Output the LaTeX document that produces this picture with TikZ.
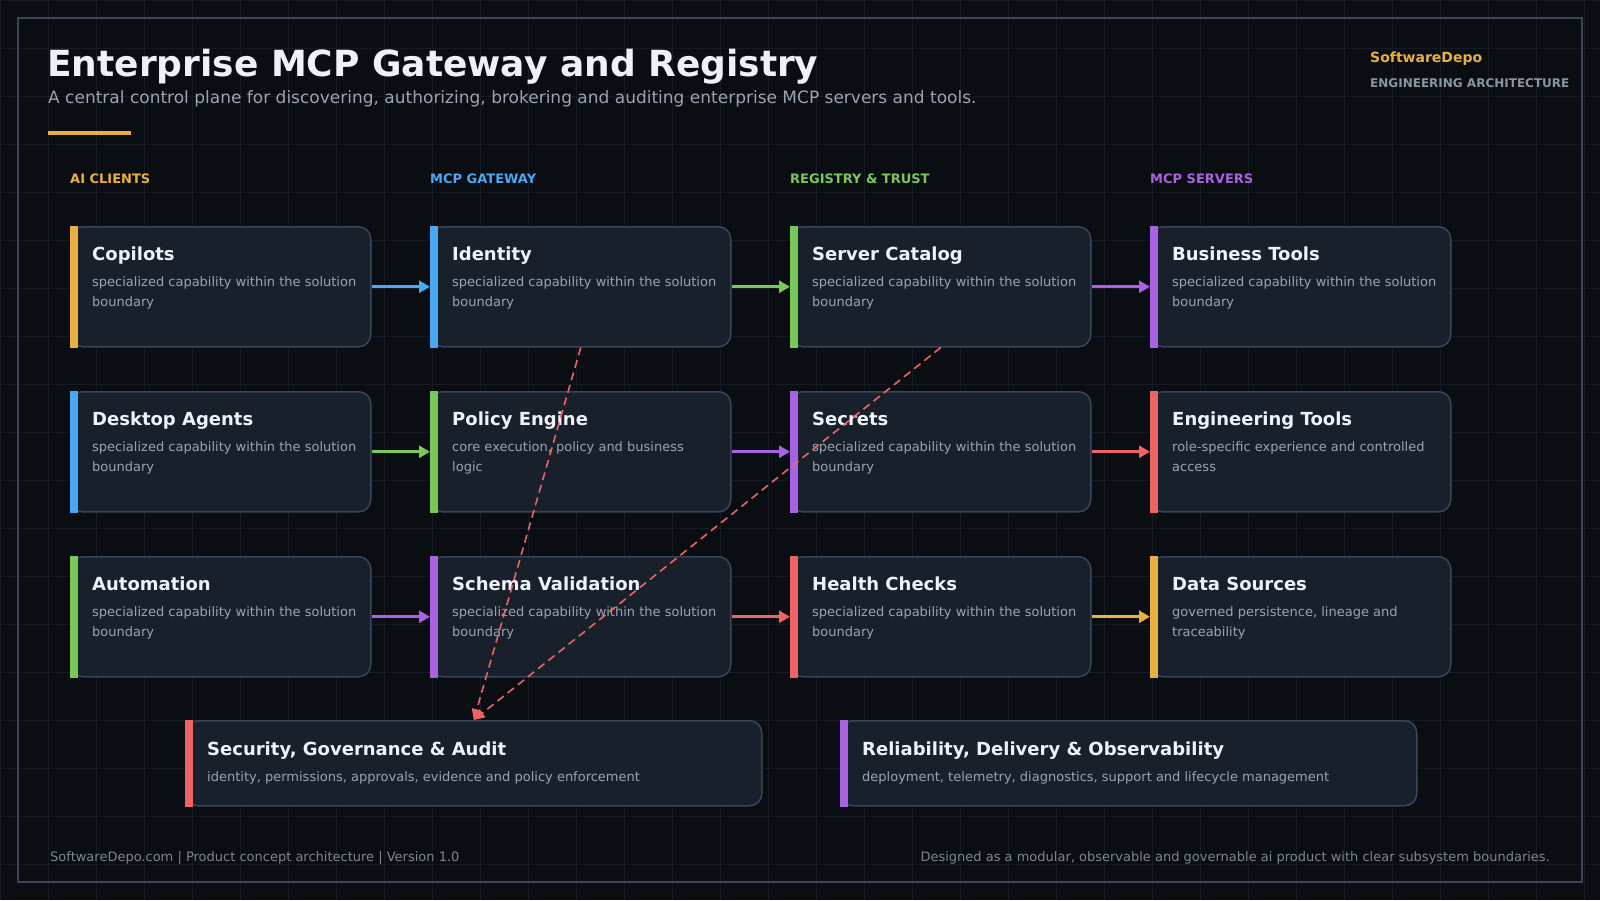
\documentclass[tikz,border=0pt]{standalone}
\usepackage{fontspec}
\setmainfont{DejaVu Sans}
\usetikzlibrary{arrows.meta,calc}
\definecolor{bgc}{HTML}{0A0D12}
\definecolor{gridc}{HTML}{141B24}
\definecolor{framec}{HTML}{3A4657}
\definecolor{cardfill}{HTML}{18202B}
\definecolor{cardline}{HTML}{38455A}
\definecolor{txtwhite}{HTML}{EEF2F8}
\definecolor{txtgray}{HTML}{9AA4B2}
\definecolor{footgray}{HTML}{7C8796}
\definecolor{archgray}{HTML}{8A95A3}
\definecolor{cyellow}{HTML}{E9B041}
\definecolor{cblue}{HTML}{4AA8F5}
\definecolor{cgreen}{HTML}{79C95A}
\definecolor{cpurple}{HTML}{A962E2}
\definecolor{cred}{HTML}{EE6464}
\newcommand\fs[2]{\fontsize{#1}{#2}\selectfont}
\tikzset{
  card/.style={draw=cardline, fill=cardfill, line width=1.5pt, rounded corners=12pt,
    anchor=north west, inner sep=0pt, minimum width=300pt, minimum height=120pt},
  wide/.style={card, minimum width=576pt, minimum height=85pt},
  ctitle/.style={anchor=base west, inner sep=0pt, text=txtwhite, font=\fs{18}{22}\bfseries},
  cdesc/.style={anchor=base west, inner sep=0pt, text=txtgray, font=\fs{13}{16}},
  collabel/.style={anchor=base west, inner sep=0pt, font=\fs{13}{15}\bfseries},
  flow/.style={line width=3pt, -{Triangle[length=11pt,width=12pt]}},
  audit/.style={cred, line width=1.6pt, dash pattern=on 8pt off 5pt, -{Triangle[length=11pt,width=10pt]}},
}
% name, x, y, colour, title, line1, line2
\newcommand\cardbox[7]{%
  \node[card] (#1) at (#2,#3) {};
  \fill[#4] (#1.north west) rectangle ([xshift=8pt]#1.south west);
  \node[ctitle] (#1-t) at ($(#1.north west)+(22,34)$) {#5};
  \node[cdesc] (#1-a) at ($(#1.north west)+(22,60)$) {#6};
  \node[cdesc] (#1-b) at ($(#1.north west)+(22,80)$) {#7};
}
\newcommand\widebox[6]{%
  \node[wide] (#1) at (#2,#3) {};
  \fill[#4] (#1.north west) rectangle ([xshift=8pt]#1.south west);
  \node[ctitle] (#1-t) at ($(#1.north west)+(22,35)$) {#5};
  \node[cdesc] (#1-a) at ($(#1.north west)+(22,61)$) {#6};
}
\begin{document}
\begin{tikzpicture}[x=1pt,y=-1pt]
\useasboundingbox (0,0) rectangle (1600,900);
\fill[bgc] (0,0) rectangle (1600,900);
\foreach \gx in {0,48,...,1584} \draw[gridc, line width=1pt] (\gx,0) -- (\gx,900);
\foreach \gy in {0,48,...,888} \draw[gridc, line width=1pt] (0,\gy) -- (1600,\gy);
\draw[framec, line width=2pt] (18,18) rectangle (1582,882);

\node[anchor=base west, inner sep=0pt, text=txtwhite, font=\fs{36}{40}\bfseries] (title) at (47,76) {Enterprise MCP Gateway and Registry};
\node[anchor=base west, inner sep=0pt, text=txtgray, font=\fs{17}{20}] (subtitle) at (48,103) {A central control plane for discovering, authorizing, brokering and auditing enterprise MCP servers and tools.};
\fill[cyellow] (48,131) rectangle (131,135);
\node[anchor=base west, inner sep=0pt, text=cyellow, font=\fs{14}{17}\bfseries] (brand) at (1370,62) {SoftwareDepo};
\node[anchor=base west, inner sep=0pt, text=archgray, font=\fs{12}{14}\bfseries] (arch) at (1370,87) {ENGINEERING ARCHITECTURE};

\node[collabel, text=cyellow] (l1) at (70,183) {AI CLIENTS};
\node[collabel, text=cblue] (l2) at (430,183) {MCP GATEWAY};
\node[collabel, text=cgreen] (l3) at (790,183) {REGISTRY \& TRUST};
\node[collabel, text=cpurple] (l4) at (1150,183) {MCP SERVERS};

\cardbox{copilots}{70}{226}{cyellow}{Copilots}{specialized capability within the solution}{boundary}
\cardbox{identity}{430}{226}{cblue}{Identity}{specialized capability within the solution}{boundary}
\cardbox{catalog}{790}{226}{cgreen}{Server Catalog}{specialized capability within the solution}{boundary}
\cardbox{business}{1150}{226}{cpurple}{Business Tools}{specialized capability within the solution}{boundary}

\cardbox{desktop}{70}{391}{cblue}{Desktop Agents}{specialized capability within the solution}{boundary}
\cardbox{policy}{430}{391}{cgreen}{Policy Engine}{core execution, policy and business}{logic}
\cardbox{secrets}{790}{391}{cpurple}{Secrets}{specialized capability within the solution}{boundary}
\cardbox{engtools}{1150}{391}{cred}{Engineering Tools}{role-specific experience and controlled}{access}

\cardbox{automation}{70}{556}{cgreen}{Automation}{specialized capability within the solution}{boundary}
\cardbox{schema}{430}{556}{cpurple}{Schema Validation}{specialized capability within the solution}{boundary}
\cardbox{health}{790}{556}{cred}{Health Checks}{specialized capability within the solution}{boundary}
\cardbox{data}{1150}{556}{cyellow}{Data Sources}{governed persistence, lineage and}{traceability}

\widebox{security}{185}{720}{cred}{Security, Governance \& Audit}{identity, permissions, approvals, evidence and policy enforcement}
\widebox{reliability}{840}{720}{cpurple}{Reliability, Delivery \& Observability}{deployment, telemetry, diagnostics, support and lifecycle management}

\draw[flow, cblue] (copilots.east) -- (identity.west);
\draw[flow, cgreen] (identity.east) -- (catalog.west);
\draw[flow, cpurple] (catalog.east) -- (business.west);
\draw[flow, cgreen] (desktop.east) -- (policy.west);
\draw[flow, cpurple] (policy.east) -- (secrets.west);
\draw[flow, cred] (secrets.east) -- (engtools.west);
\draw[flow, cpurple] (automation.east) -- (schema.west);
\draw[flow, cred] (schema.east) -- (health.west);
\draw[flow, cyellow] (health.east) -- (data.west);

\draw[audit] (identity.south) -- (security.north);
\draw[audit] (catalog.south) -- (security.north);

\node[anchor=base west, inner sep=0pt, text=footgray, font=\fs{13}{16}] (footl) at (50,861) {SoftwareDepo.com | Product concept architecture | Version 1.0};
\node[anchor=base east, inner sep=0pt, text=footgray, font=\fs{13}{16}] (footr) at (1550,861) {Designed as a modular, observable and governable ai product with clear subsystem boundaries.};
\end{tikzpicture}
\end{document}
